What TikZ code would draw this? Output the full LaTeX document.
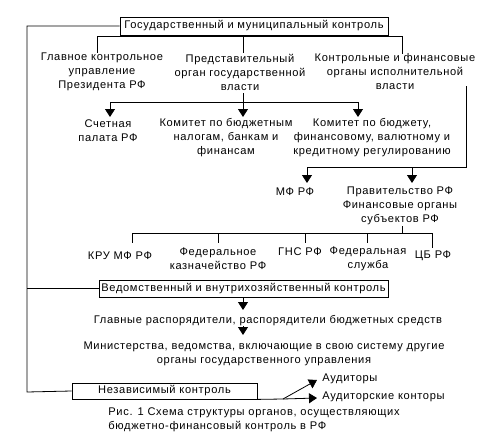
\documentclass[tikz,border=0pt]{standalone}
\usepackage{fontspec}
\setmainfont{Liberation Sans}[LetterSpace=6]
\usetikzlibrary{arrows.meta}

\begin{document}
\begin{tikzpicture}[x=1pt,y=-1pt,line width=0.8pt]
\tikzstyle{txt}=[inner sep=0pt,align=center,font=\fontsize{11.1}{14}\selectfont]
\tikzstyle{box}=[txt,draw,line width=0.8pt]
\tikzstyle{arr}=[-{Triangle[width=10pt,length=8pt]}]
\useasboundingbox (0,0) rectangle (491,442);
% boxes
\node[box,minimum width=268pt,minimum height=18pt] (gmk) at (254,26) {Государственный и муниципальный контроль};
\node[box,minimum width=289pt,minimum height=17pt] (vvk) at (243.5,288.5) {Ведомственный и внутрихозяйственный контроль};
\node[box,minimum width=185pt,minimum height=16pt] (nk) at (164.5,391) {Независимый контроль};
% first level
\node[txt] (gku) at (102,72) {Главное контрольное\\управление\\Президента РФ};
\node[txt] (pogv) at (240,72) {Представительный\\орган государственной\\власти};
\node[txt] (kfo) at (395,72) {Контрольные и финансовые\\органы исполнительной\\власти};
% second level
\node[txt] (sp) at (108,130.5) {Счетная\\палата РФ};
\node[txt] (kbn) at (226,138) {Комитет по бюджетным\\налогам, банкам и\\финансам};
\node[txt] (kbf) at (372,138) {Комитет по бюджету,\\финансовому, валютному и\\кредитному регулированию};
\node[txt] (mf) at (295,192) {МФ РФ};
\node[txt] (prf) at (400,206) {Правительство РФ\\Финансовые органы\\субъектов РФ};
% third level
\node[txt] (kru) at (120,256) {КРУ МФ РФ};
\node[txt] (fk) at (218,258.5) {Федеральное\\казначейство РФ};
\node[txt] (gns) at (300,252) {ГНС РФ};
\node[txt] (fs) at (368,258.5) {Федеральная\\служба};
\node[txt] (cb) at (433,256) {ЦБ РФ};
% departmental
\node[txt] (grs) at (268,321) {Главные распорядители, распорядители бюджетных средств};
\node[txt] (mv) at (264,353.5) {Министерства, ведомства, включающие в свою систему другие\\органы государственного управления};
% independent
\node[txt,anchor=west] (aud) at (322,379) {Аудиторы};
\node[txt,anchor=west] (audk) at (322,397) {Аудиторские конторы};
\node[txt,anchor=west,align=left] (cap) at (108,420) {Рис. 1 Схема структуры органов, осуществляющих\\бюджетно-финансовый контроль в РФ};
% junctions
\coordinate (l1) at (27,392);
\coordinate (t1) at (97,36);
\coordinate (t3) at (402,36);
\coordinate (p0) at (243,93);
\coordinate (p1) at (243,102);
\coordinate (r0) at (466,86);
\coordinate (r1) at (466,167);
\coordinate (s0) at (402,226);
\coordinate (s1) at (402,233);
\coordinate (n1) at (283,399);
% connectors
\draw (gmk.west) -| (l1) -- (nk.west);
\draw (vvk.west) -- (vvk.west -| l1);
\draw (t1 |- gku.north) -- (t1) -- (t3) -- (t3 |- kfo.north);
\draw (p0 |- t1) -- (p0 |- pogv.north);
\draw (p0) -- (p1);
\draw (110,102) -- (358,102);
\foreach \x in {110,243,358}
  \draw[arr] (\x,102) -- (\x,117);
\draw (r0) -- (r1) -- (307,167);
\foreach \x in {307,412}
  \draw[arr] (\x,167) -- (\x,183);
\draw (s0) -- (s1);
\draw (132,233) -- (432,233);
\foreach \x in {132,218,305,367}
  \draw (\x,233) -- (\x,243);
\draw (432,233) -- (432,248);
\draw[arr] (vvk.south -| p0) -- (243,310);
\draw[arr] (243,326) -- (243,335);
\draw (nk.south east) -- (n1);
\draw[arr] (n1) -- (317,380);
\draw[arr] (n1) -- (317,398);
\end{tikzpicture}
\end{document}
